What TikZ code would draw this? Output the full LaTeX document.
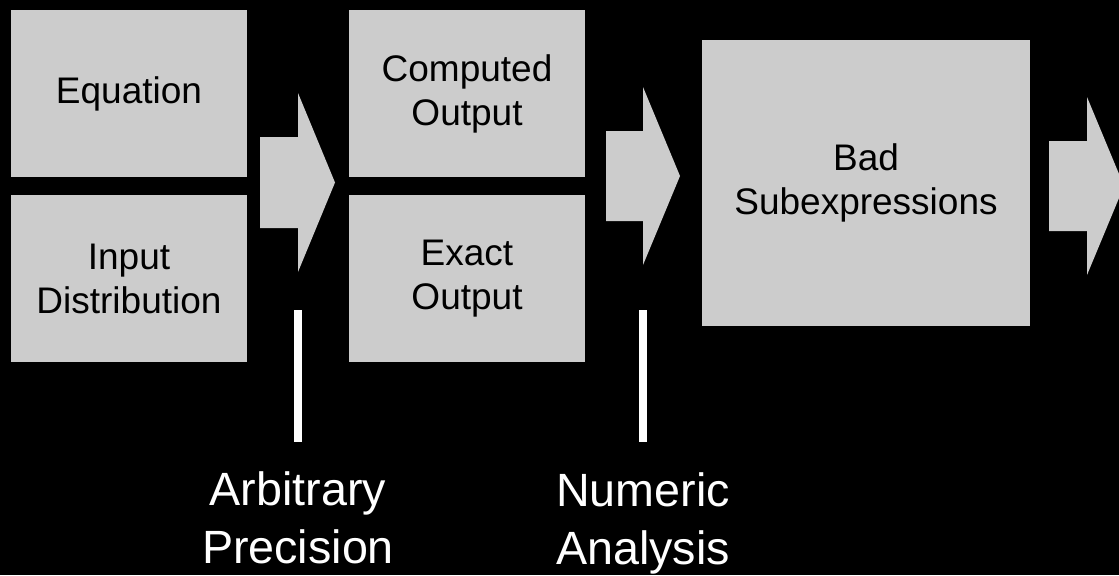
\documentclass[tikz,border=0pt]{standalone}
\usepackage{fontspec}
\setmainfont{Liberation Sans}
\definecolor{panel}{RGB}{204,204,204}
\begin{document}
\begin{tikzpicture}[x=0.75pt,y=-0.75pt,
    box/.style={fill=panel, draw=none, align=center, text=black,
        font={\fontsize{27.75}{33}\selectfont}},
    note/.style={align=center, text=white,
        font={\fontsize{35}{43.5}\selectfont}}]
                \fill[black] (0,0) rectangle (1119,575);
                \useasboundingbox (0,0) rectangle (1119,575);
                \node[box, minimum width=177pt, minimum height=125.25pt] (eq) at (129,93.5) {Equation};
                \node[box, minimum width=177pt, minimum height=125.25pt] (inp) at (129,278.5) {Input\\Distribution};
                \node[box, minimum width=177pt, minimum height=125.25pt] (comp) at (467,93.5) {Computed\\Output};
                \node[box, minimum width=177pt, minimum height=125.25pt] (exact) at (467,278.5) {Exact\\Output};
                \node[box, minimum width=246pt, minimum height=214.5pt] (bad) at (866,183) {Bad\\Subexpressions};
                \fill[panel] (260,137) -- (298,137) -- (298,93) -- (335,182.5) -- (298,272) -- (298,228) -- (260,228) -- cycle;
                \fill[panel] (606,131) -- (643,131) -- (643,87) -- (680,176) -- (643,265) -- (643,221) -- (606,221) -- cycle;
                \fill[panel] (1049,141) -- (1087,141) -- (1087,97) -- (1124,186) -- (1087,275) -- (1087,231) -- (1049,231) -- cycle;
                \draw (298,310) coordinate (Pt);
                \draw (298,442) coordinate (Pb);
                \draw (643,310) coordinate (Nt);
                \draw (643,442) coordinate (Nb);
                \draw[white, line width=6pt] (Pt) -- (Pb);
                \draw[white, line width=6pt] (Nt) -- (Nb);
                \node[note] (prec) at (298,518) {Arbitrary\\Precision};
                \node[note] (num) at (643,523) {Numeric\\Analysis};
            \end{tikzpicture}
\end{document}
